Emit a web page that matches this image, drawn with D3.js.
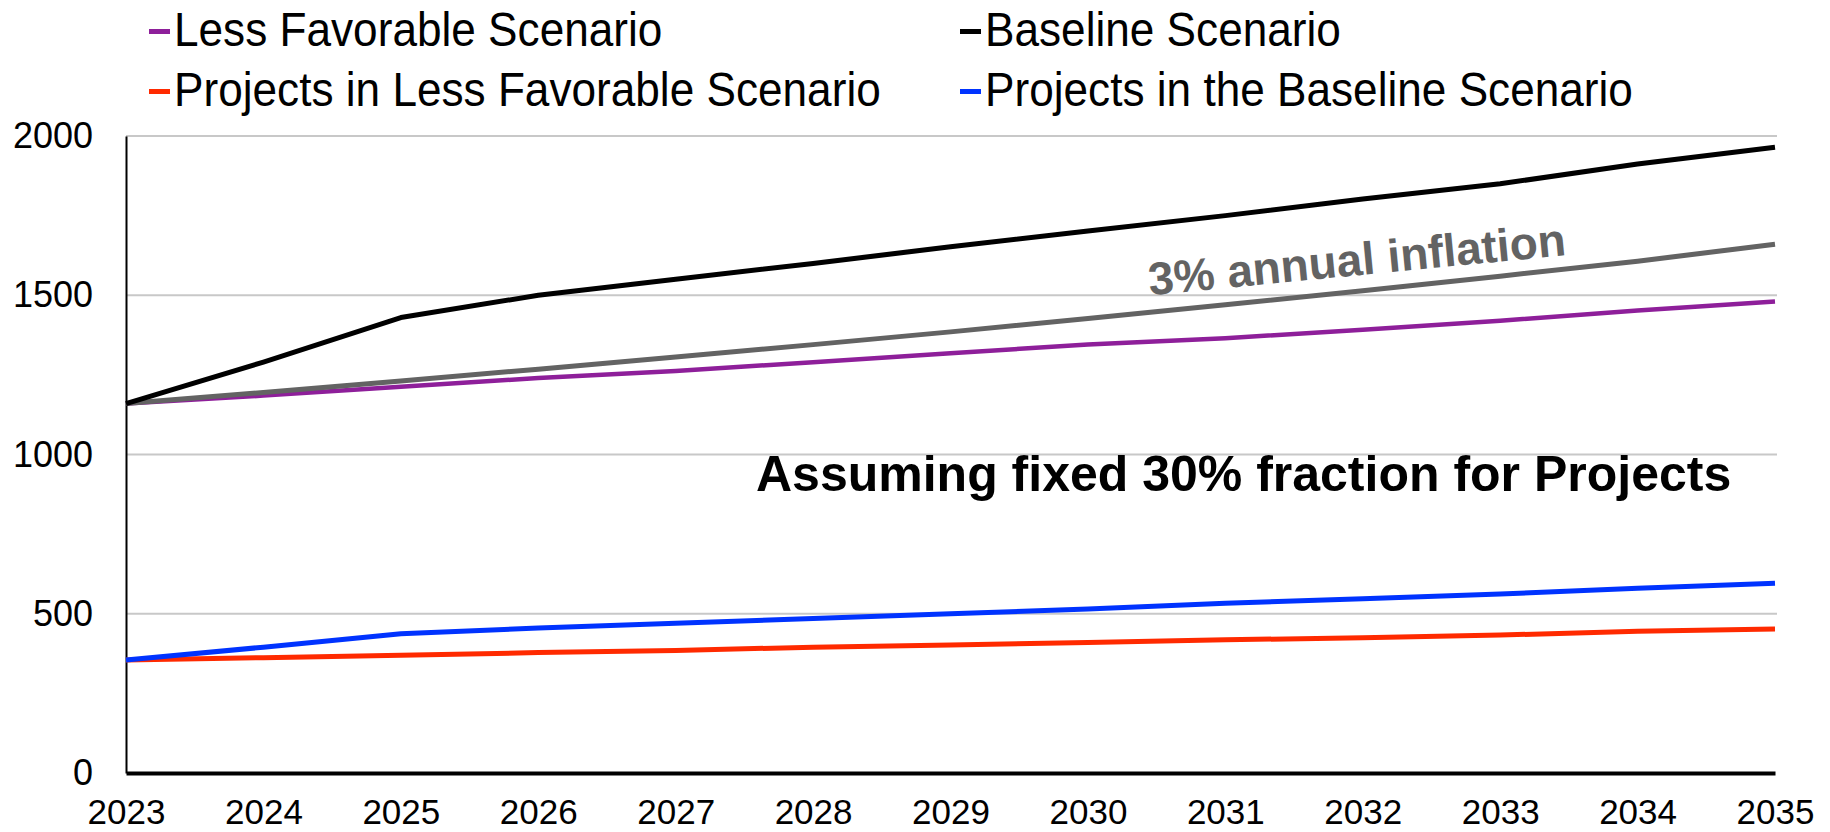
<!DOCTYPE html>
<html>
<head>
<meta charset="utf-8">
<script src="https://cdn.jsdelivr.net/npm/d3@7"></script>
<style>
  html, body { margin: 0; padding: 0; background: #ffffff; }
  svg { display: block; }
  text { font-family: "Liberation Sans", Arial, sans-serif; }
</style>
</head>
<body>
<svg id="chart" width="1830" height="832"></svg>
<script>
// Yearly budget projections, 2023-2035
const years = [2023, 2024, 2025, 2026, 2027, 2028, 2029, 2030, 2031, 2032, 2033, 2034, 2035];
const baseline = [1160, 1290, 1430, 1500, 1550, 1600, 1652, 1702, 1750, 1802, 1850, 1912, 1965];
const inflation = [1160, 1195, 1231, 1268, 1306, 1345, 1385, 1427, 1470, 1514, 1560, 1607, 1660];
const lessFavorable = [1160, 1185, 1213, 1240, 1262, 1290, 1318, 1345, 1365, 1392, 1420, 1452, 1480];
const projectsBaseline = [355, 395, 437, 455, 470, 485, 500, 515, 533, 547, 562, 580, 596];
const projectsLessFav = [355, 362, 370, 378, 385, 395, 402, 410, 418, 425, 433, 445, 452];
const yTicks = [0, 500, 1000, 1500, 2000];

const legendItems = [
  { label: "Less Favorable Scenario", color: "#8e1f9a", col: 0, row: 0 },
  { label: "Baseline Scenario", color: "#000000", col: 1, row: 0 },
  { label: "Projects in Less Favorable Scenario", color: "#ff2a00", col: 0, row: 1 },
  { label: "Projects in the Baseline Scenario", color: "#0033ff", col: 1, row: 1 }
];

const series = [
  { values: lessFavorable, color: "#8e1f9a", width: 4.5 },
  { values: inflation, color: "#636363", width: 5 },
  { values: baseline, color: "#000000", width: 5 },
  { values: projectsLessFav, color: "#ff2a00", width: 5 },
  { values: projectsBaseline, color: "#0033ff", width: 5 }
];

const svg = d3.select("#chart");
const plot = { left: 126, right: 1775, top: 136, bottom: 773 };

const x = d3.scaleLinear().domain([2023, 2035]).range([plot.left, plot.right]);
const y = d3.scaleLinear().domain([0, 2000]).range([plot.bottom, plot.top]);

// horizontal gridlines
svg.append("g")
  .selectAll("line")
  .data(yTicks.filter(d => d > 0))
  .join("line")
  .attr("x1", plot.left)
  .attr("x2", plot.right + 2)
  .attr("y1", d => y(d))
  .attr("y2", d => y(d))
  .attr("stroke", "#c8c8c8")
  .attr("stroke-width", 2);

// y axis
const yAxis = svg.append("g")
  .attr("transform", `translate(${plot.left},0)`)
  .call(d3.axisLeft(y).tickValues(yTicks).tickSize(0).tickPadding(33).tickFormat(d3.format("d")));
yAxis.select(".domain").attr("stroke", "#000").attr("stroke-width", 2);
yAxis.selectAll("text")
  .attr("font-size", 36)
  .attr("fill", "#000")
  .style("font-family", "'Liberation Sans', Arial, sans-serif");

// x axis
const xAxis = svg.append("g")
  .attr("transform", `translate(0,${plot.bottom})`)
  .call(d3.axisBottom(x).tickValues(years).tickSize(0).tickPadding(26).tickFormat(d3.format("d")));
xAxis.select(".domain").attr("stroke", "#000").attr("stroke-width", 4);
xAxis.selectAll("text")
  .attr("font-size", 35)
  .attr("fill", "#000")
  .style("font-family", "'Liberation Sans', Arial, sans-serif");

// series lines
const line = d3.line()
  .x((d, i) => x(years[i]))
  .y(d => y(d));

svg.append("g")
  .selectAll("path")
  .data(series)
  .join("path")
  .attr("d", d => line(d.values))
  .attr("fill", "none")
  .attr("stroke", d => d.color)
  .attr("stroke-width", d => d.width)
  .attr("stroke-linejoin", "round");

// inflation label, set parallel to the grey reference line
const slope = (y(inflation[12]) - y(inflation[0])) / (x(2035) - x(2023));
const angle = Math.atan(slope) * 180 / Math.PI;
const labelYear = 2030.45;
const labelY = y(d3.interpolateNumber(inflation[7], inflation[8])(labelYear - 2030)) - 17;
svg.append("text")
  .attr("transform", `translate(${x(labelYear)},${labelY}) rotate(${angle})`)
  .attr("font-size", 46)
  .attr("font-weight", "bold")
  .attr("fill", "#636363")
  .text("3% annual inflation");

svg.append("text")
  .attr("x", 756)
  .attr("y", 491)
  .attr("font-size", 50)
  .attr("font-weight", "bold")
  .attr("fill", "#000")
  .text("Assuming fixed 30% fraction for Projects");

// legend
const legendCols = [149, 960];
const legendRows = [46, 106];
const legend = svg.append("g");
const item = legend.selectAll("g")
  .data(legendItems)
  .join("g")
  .attr("transform", d => `translate(${legendCols[d.col]},${legendRows[d.row]})`);
item.append("rect")
  .attr("x", 0)
  .attr("y", -17)
  .attr("width", 21)
  .attr("height", 5)
  .attr("fill", d => d.color);
item.append("text")
  .attr("transform", "translate(25,0) scale(0.92,1)")
  .attr("font-size", 48)
  .attr("fill", "#000")
  .text(d => d.label);
</script>
</body>
</html>
